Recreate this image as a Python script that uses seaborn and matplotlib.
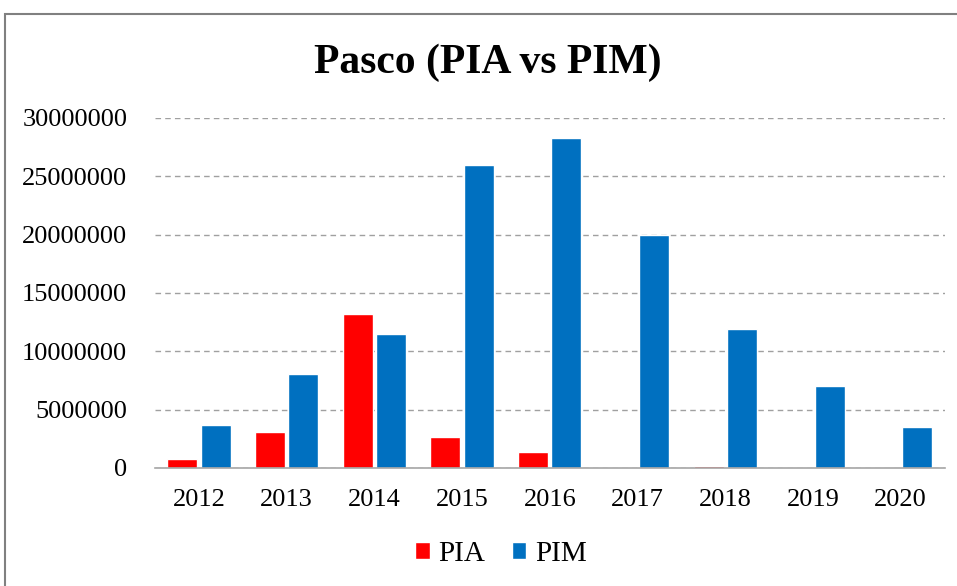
import pandas as pd
import matplotlib.pyplot as plt
import seaborn as sns
from matplotlib.patches import Rectangle

# Data
years = ['2012', '2013', '2014', '2015', '2016', '2017', '2018', '2019', '2020']
pia = [770000, 3090000, 13200000, 2660000, 1340000, 0, 150000, 0, 0]
pim = [3650000, 8060000, 11450000, 25940000, 28290000, 19940000, 11880000, 7030000, 3510000]
yticks = [0, 5000000, 10000000, 15000000, 20000000, 25000000, 30000000]

df = pd.DataFrame({
    'year': years * 2,
    'value': pia + pim,
    'serie': ['PIA'] * len(years) + ['PIM'] * len(years),
})

sns.set_style('white')
plt.rcParams['font.family'] = ['Liberation Serif', 'DejaVu Serif']
plt.rcParams['text.color'] = 'black'
plt.rcParams['xtick.color'] = 'black'
plt.rcParams['ytick.color'] = 'black'

fig = plt.figure(figsize=(9.57, 5.86), dpi=100)
ax = fig.add_axes([0.162, 0.2014, 0.825, 0.5973])

sns.barplot(data=df, x='year', y='value', hue='serie',
            palette={'PIA': '#FF0000', 'PIM': '#0070C0'}, saturation=1,
            width=0.76, gap=0.1, ax=ax, legend=True)

ax.set_ylim(0, 30000000)
ax.set_yticks(yticks)
ax.set_yticklabels([str(v) for v in yticks], fontsize=19)
ax.tick_params(axis='x', labelsize=19, length=0, pad=15)
ax.tick_params(axis='y', length=0, pad=20)
ax.set_xlim(-0.5, len(years) - 0.5)
ax.set_xlabel('')
ax.set_ylabel('')
ax.grid(axis='y', color='#A0A0A0', linestyle=(0, (4, 3)), linewidth=1)
ax.set_axisbelow(True)
for s in ['left', 'right', 'top']:
    ax.spines[s].set_visible(False)
ax.spines['bottom'].set_color('#A6A6A6')
ax.spines['bottom'].set_linewidth(1.2)

ax.legend(loc='center', bbox_to_anchor=(0.438, -0.245), ncol=2, frameon=False,
          fontsize=21, handlelength=0.5, handleheight=0.5, handletextpad=0.3,
          columnspacing=0.9)

fig.text(0.51, 0.893, 'Pasco (PIA vs PIM)', ha='center', va='center',
         fontsize=30, fontweight='bold')

# outer chart border
fig.patches.append(Rectangle((0.005, -0.05), 1.2, 1.026, transform=fig.transFigure,
                             fill=False, edgecolor='#808080', linewidth=1.5))

fig.savefig('out.png', dpi=100)
plt.close()
